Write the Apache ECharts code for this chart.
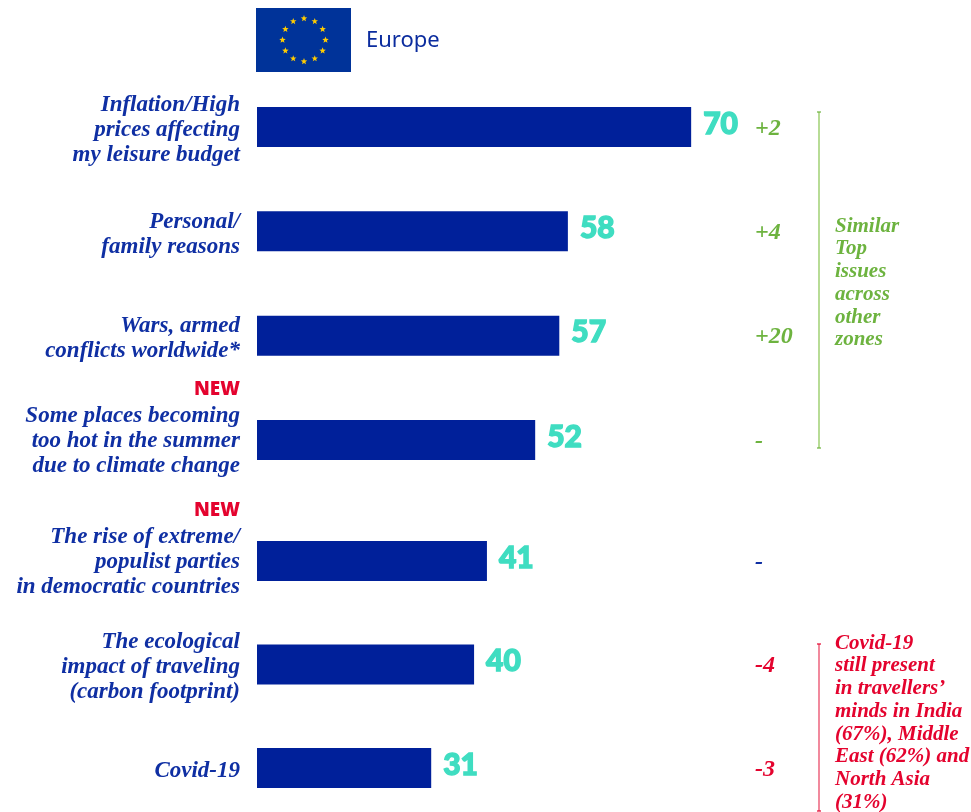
<!DOCTYPE html>
<html><head><meta charset="utf-8">
<style>html,body{margin:0;padding:0;background:#fff}#c{width:971px;height:812px}</style>
<script src="https://cdn.jsdelivr.net/npm/echarts@6/dist/echarts.min.js"></script>
</head><body><div id="c"></div>
<script>
const categories = [
  "Inflation/High\nprices affecting\nmy leisure budget",
  "Personal/\nfamily reasons",
  "Wars, armed\nconflicts worldwide*",
  "Some places becoming\ntoo hot in the summer\ndue to climate change",
  "The rise of extreme/\npopulist parties\nin democratic countries",
  "The ecological\nimpact of traveling\n(carbon footprint)",
  "Covid-19"
];
const isNew = [false,false,false,true,true,false,false];
// Printed values (shown as labels)
const printedValues = [70,58,57,52,41,40,31];
// Bar lengths as drawn in the reference: its bars are not strictly proportional to the printed values.
const drawnLengths = [81,58,56.4,51.9,42.9,40.5,32.5];
const changes = ["+2","+4","+20","-","-","-4","-3"];
const changeKinds = ["g","g","g","g","b","r","r"];
const similarNote = "Similar\nTop\nissues\nacross\nother\nzones";
const covidNote = "Covid-19\nstill present\nin travellers’\nminds in India\n(67%), Middle\nEast (62%) and\nNorth Asia\n(31%)";

const BLUE="#00209A", TXT="#0F2FA3", TEAL="#3FDDC1", GREEN="#6DB33F", RED="#E4032E";
const SERIF='"Liberation Serif",serif';
const split=4;
const axisMax=(755-257)/5.36;

const leftFmt=(v)=>{
  const i=categories.indexOf(v);
  const body=v.split("\n").map(l=>"{t|"+l+"}").join("\n");
  return isNew[i]?"{n|NEW}\n"+body+"\n{e| }":body;
};
const rightFmt=(v)=>{const i=categories.indexOf(v);return "{"+changeKinds[i]+"|"+changes[i]+"}";};
const chg=(c)=>({color:c,fontFamily:SERIF,fontStyle:"italic",fontWeight:"bold",fontSize:24});

function axes(idx,cats){
  return [
   {type:"category",gridIndex:idx,inverse:true,boundaryGap:false,data:cats,position:"left",
    axisLine:{show:false},axisTick:{show:false},
    axisLabel:{margin:17,align:"right",formatter:leftFmt,interval:0,padding:[6,0,0,0],
      rich:{t:{fontFamily:SERIF,fontStyle:"italic",fontWeight:"bold",fontSize:23,lineHeight:25,color:TXT,align:"right"},
            e:{fontSize:10,lineHeight:31},
            n:{fontFamily:'"Open Sans"',fontWeight:800,fontSize:19,lineHeight:28,color:RED,align:"right"}}}},
   {type:"category",gridIndex:idx,inverse:true,boundaryGap:false,data:cats,position:"right",
    axisLine:{show:false},axisTick:{show:false},
    axisLabel:{margin:0,align:"left",formatter:rightFmt,interval:0,padding:[3,0,0,0],
      rich:{g:chg(GREEN),b:chg(TXT),r:chg(RED)}}}
  ];
}
function bars(idx,from,to){
  return {type:"bar",xAxisIndex:idx,yAxisIndex:idx*2,barWidth:40,
    data:drawnLengths.slice(from,to).map((v,i)=>({value:v,printed:printedValues[from+i]})),
    itemStyle:{color:BLUE},
    label:{show:true,position:"right",distance:12,offset:[0,-3],
      formatter:(p)=>String(p.data.printed),
      fontFamily:"Lato",fontWeight:900,fontSize:30,color:TEAL,textBorderColor:TEAL,textBorderWidth:1.4},
    silent:true,animation:false};
}
const star=(cx,cy,r)=>{const p=[];for(let i=0;i<10;i++){const a=-Math.PI/2+i*Math.PI/5,q=i%2?r*0.42:r;p.push([cx+q*Math.cos(a),cy+q*Math.sin(a)]);}return p;};
const flagStars=[];
for(let i=0;i<12;i++){const a=i*Math.PI/6;
  flagStars.push({type:"polygon",shape:{points:star(304+21.5*Math.cos(a),40+21.5*Math.sin(a),3.4)},style:{fill:"#FFCC00"}});}
const note=(x,y,text,color)=>({type:"text",x,y,style:{text,fill:color,font:'italic bold 21px '+SERIF,lineHeight:22.7,textAlign:"left",textVerticalAlign:"top"}});
const bracket=(y1,y2,color,tick)=>[
  {type:"line",shape:{x1:819,y1,x2:819,y2},style:{stroke:color,lineWidth:1.6}},
  {type:"line",shape:{x1:817,y1,x2:821,y2:y1},style:{stroke:tick,lineWidth:1.2}},
  {type:"line",shape:{x1:817,y1:y2,x2:821,y2},style:{stroke:tick,lineWidth:1.2}}];

const chart=echarts.init(document.getElementById("c"),null,{renderer:"canvas"});
chart.setOption({
  animation:false,backgroundColor:"#fff",
  grid:[{left:257,width:498,top:127,height:313},{left:257,width:498,top:561,height:207}],
  xAxis:[0,1].map(g=>({type:"value",gridIndex:g,min:0,max:axisMax,show:false})),
  yAxis:[...axes(0,categories.slice(0,split)),...axes(1,categories.slice(split))],
  series:[bars(0,0,split),bars(1,split,categories.length)],
  graphic:[
    {type:"rect",shape:{x:256,y:8,width:95,height:64},style:{fill:"#003399"}},
    ...flagStars,
    {type:"text",x:366,y:41,style:{text:"Europe",fill:"#0B2C9E",font:'22px "Noto Sans"',textVerticalAlign:"middle"}},
    ...bracket(112,448,"#A6D47C",GREEN),
    ...bracket(644,811,"#EE6C85",RED),
    note(835,215,similarNote,GREEN),
    note(835,632,covidNote,RED)
  ]
});
</script></body></html>
